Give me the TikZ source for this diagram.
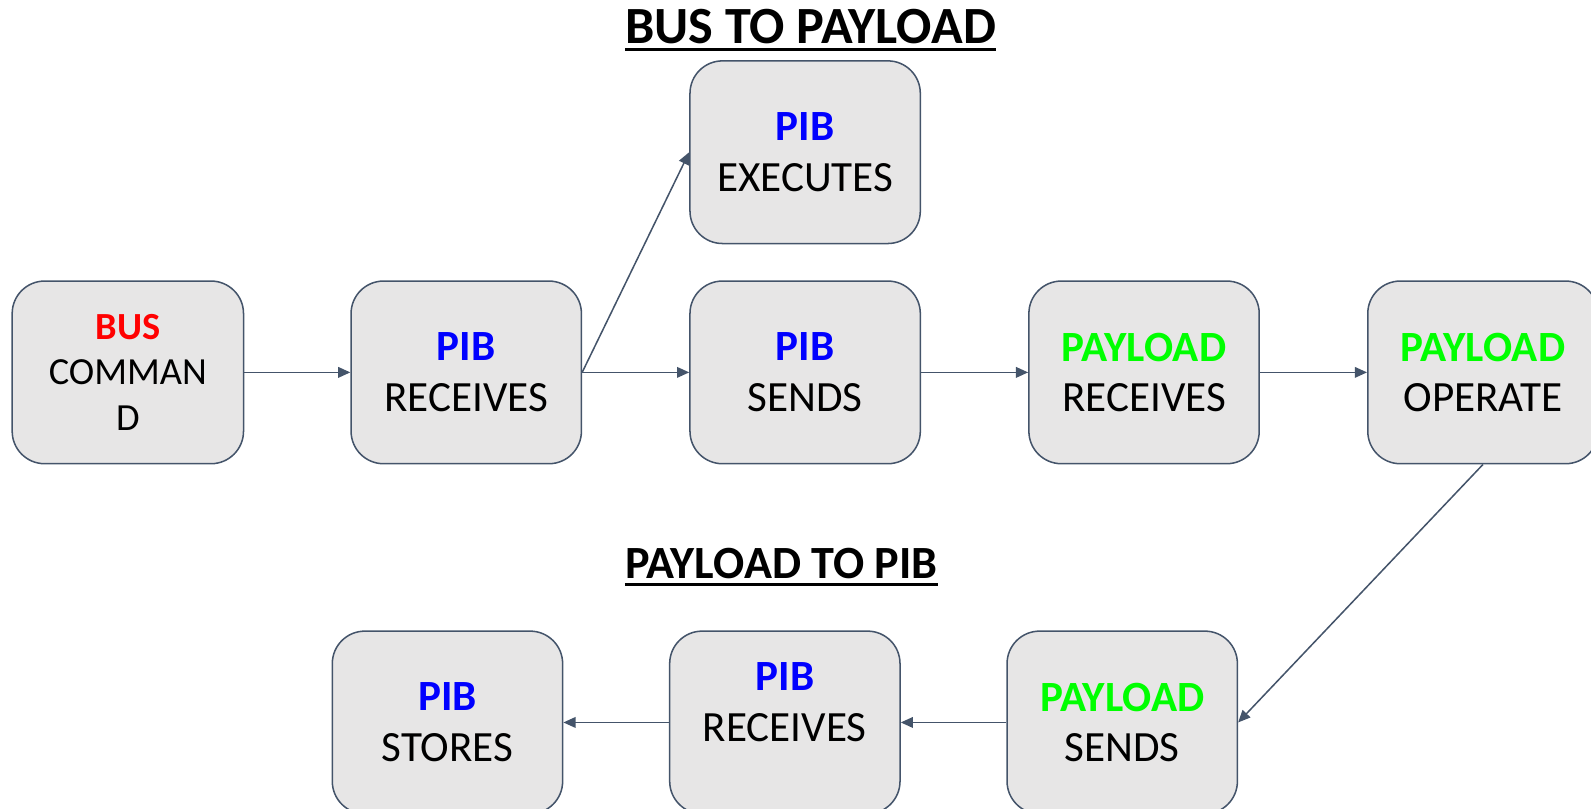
\documentclass[tikz,border=0pt]{standalone}
\usepackage{fontspec}
\setmainfont{Carlito}
\usetikzlibrary{arrows.meta}
\definecolor{boxfill}{HTML}{E7E6E6}
\definecolor{boxline}{HTML}{44546A}
\definecolor{busred}{HTML}{FF0000}
\definecolor{pibblue}{HTML}{0000FF}
\definecolor{loadgreen}{HTML}{00FF00}
\newcommand{\busword}{\textcolor{busred}{\textbf{BUS}}}
\newcommand{\pibword}{\textcolor{pibblue}{\textbf{PIB}}}
\newcommand{\loadword}{\textcolor{loadgreen}{\textbf{PAYLOAD}}}
\begin{document}
\begin{tikzpicture}[x=1pt,y=-1pt,
  stepbox/.style={draw=boxline, line width=1.5pt, fill=boxfill,
    rounded corners=32pt, minimum width=227pt, minimum height=180pt,
    align=center, inner sep=0pt, font=\fontsize{42.5}{50}\selectfont},
  flow/.style={draw=boxline, line width=1.5pt,
    -{Triangle[length=12pt,width=10.5pt]}},
  heading/.style={inner sep=0pt, anchor=base},
  underbar/.style={line width=2.5pt}]

\useasboundingbox (0,0) rectangle (1568,797);

% headings
\node[heading, font=\bfseries\fontsize{51.5}{60}\selectfont] (t1) at (799,43) {BUS TO PAYLOAD};
\draw[underbar] ([yshift=-6pt]t1.base west) -- ([yshift=-6pt]t1.base east);
\node[heading, font=\bfseries\fontsize{45.5}{54}\selectfont] (t2) at (770,570) {PAYLOAD TO PIB};
\draw[underbar] ([yshift=-6pt]t2.base west) -- ([yshift=-6pt]t2.base east);

% bus to payload chain
\node[stepbox, minimum width=228pt, font=\fontsize{37.8}{45}\selectfont] (bus) at (126,367) {\busword\\COMMAN\\D};
\node[stepbox] (pibrx)   at (459.5,367)  {\pibword\\RECEIVES};
\node[stepbox] (pibexec) at (793.5,150)  {\pibword\\EXECUTES};
\node[stepbox] (pibtx)   at (793.5,367)  {\pibword\\SENDS};
\node[stepbox] (plrx)    at (1127.5,367) {\loadword\\RECEIVES};
\node[stepbox] (plop)    at (1461.5,367) {\loadword\\OPERATE};

% payload to pib chain
\node[stepbox] (plsend)   at (1106,712)  {\loadword\\SENDS};
\node[stepbox, text depth=40pt] (pibrx2) at (773.5,712) {\pibword\\RECEIVES};
\node[stepbox] (pibstore) at (441,712)   {\pibword\\STORES};

% connectors
\draw[flow] (bus) -- (pibrx);
\draw[flow] (pibrx.east) -- (pibexec.west);
\draw[flow] (pibrx) -- (pibtx);
\draw[flow] (pibtx) -- (plrx);
\draw[flow] (plrx) -- (plop);
\draw[flow] (plop.south) -- (plsend.east);
\draw[flow] (plsend) -- (pibrx2);
\draw[flow] (pibrx2) -- (pibstore);
\end{tikzpicture}
\end{document}
